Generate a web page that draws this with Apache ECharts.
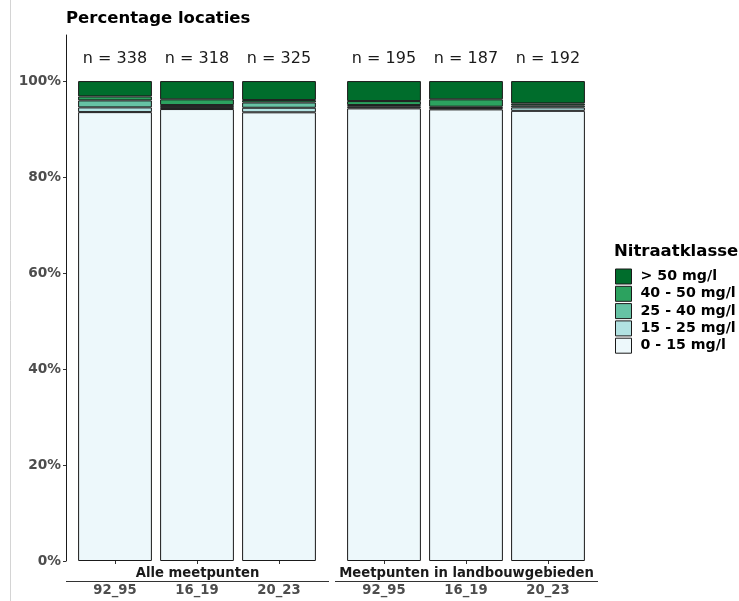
<!DOCTYPE html>
<html>
<head>
<meta charset="utf-8">
<script src="https://cdn.jsdelivr.net/npm/echarts@6/dist/echarts.min.js"></script>
<style>html,body{margin:0;padding:0;background:#fff}#c{width:739px;height:601px}</style>
</head>
<body>
<div id="c"></div>
<script>
const periods = ["92_95", "16_19", "20_23"];
const panels = ["Alle meetpunten", "Meetpunten in landbouwgebieden"];
const classes = ["0 - 15 mg/l", "15 - 25 mg/l", "25 - 40 mg/l", "40 - 50 mg/l", "> 50 mg/l"];
const colors = ["#edf8fb", "#b2e2e2", "#66c2a4", "#2ca25f", "#006d2c"];
const nAlle = [338, 318, 325];
const nLandbouw = [195, 187, 192];
// percentages per class (bottom to top), per period
const alle_0_15 = [93.53, 94.17, 93.49];
const alle_15_25 = [0.98, 0.41, 0.95];
const alle_25_40 = [1.46, 0.42, 1.10];
const alle_40_50 = [0.83, 1.19, 0.50];
const alle_gt50 = [3.20, 3.81, 3.96];
const land_0_15 = [94.31, 94.10, 93.80];
const land_15_25 = [0.34, 0.26, 0.71];
const land_25_40 = [0.35, 0.30, 0.42];
const land_40_50 = [0.83, 1.53, 0.42];
const land_gt50 = [4.17, 3.81, 4.65];
const yTicks = [0, 20, 40, 60, 80, 100];

const panelData = [
  [alle_0_15, alle_15_25, alle_25_40, alle_40_50, alle_gt50],
  [land_0_15, land_15_25, land_25_40, land_40_50, land_gt50]
];
const panelN = [nAlle, nLandbouw];

const font = "DejaVu Sans";
const series = [];
panelData.forEach((arrs, g) => {
  arrs.forEach((vals, k) => {
    const s = {
      name: classes[k], type: 'bar', stack: 'p' + g,
      xAxisIndex: g, yAxisIndex: g, barWidth: '90%',
      itemStyle: { color: colors[k], borderColor: '#1a1a1a', borderWidth: 1 },
      data: vals
    };
    if (k === arrs.length - 1) {
      s.label = {
        show: true, position: 'top', distance: 14,
        fontFamily: font, fontSize: 16, color: '#1a1a1a',
        formatter: p => 'n = ' + panelN[g][p.dataIndex]
      };
    }
    series.push(s);
  });
});

const xAxisCommon = (g) => ({
  type: 'category', gridIndex: g, data: periods, offset: 20,
  axisLine: { show: false },
  axisTick: { show: true, length: 3, alignWithLabel: true, lineStyle: { color: '#333' } },
  axisLabel: { margin: 3, fontFamily: font, fontWeight: 'bold', fontSize: 13.2, color: '#4d4d4d' }
});

const chart = echarts.init(document.getElementById('c'));
chart.setOption({
  animation: false,
  grid: [
    { left: 74, width: 246, top: 35, bottom: 40 },
    { left: 343, width: 246, top: 35, bottom: 40 }
  ],
  xAxis: [xAxisCommon(0), xAxisCommon(1)],
  yAxis: [
    { type: 'value', gridIndex: 0, min: 0, max: 109.6, offset: 8,
      splitLine: { show: false },
      axisLine: { show: true, lineStyle: { color: '#1a1a1a', width: 1 } },
      axisTick: { show: true, length: 3, customValues: yTicks, lineStyle: { color: '#333' } },
      axisLabel: { customValues: yTicks, margin: 5, formatter: '{value}%', fontFamily: font, fontWeight: 'bold', fontSize: 13.7, color: '#4d4d4d' } },
    { type: 'value', gridIndex: 1, min: 0, max: 109.6, show: false, splitLine: { show: false } }
  ],
  legend: {
    data: classes.slice().reverse(), orient: 'vertical', left: 610, top: 263.5,
    icon: 'rect', itemWidth: 16, itemHeight: 15, itemGap: 1.3, selectedMode: false,
    itemStyle: { borderWidth: 1, borderColor: '#1a1a1a' },
    textStyle: { fontFamily: font, fontWeight: 'bold', fontSize: 14.2, lineHeight: 15, color: '#000', padding: [0, 0, 0, 4] }
  },
  graphic: [
    { type: 'line', shape: { x1: 10.5, y1: 0, x2: 10.5, y2: 601 }, style: { stroke: '#d4d4d4', lineWidth: 1 } },
    { type: 'line', shape: { x1: 66, y1: 581.5, x2: 329, y2: 581.5 }, style: { stroke: '#333', lineWidth: 1 } },
    { type: 'line', shape: { x1: 335, y1: 581.5, x2: 598, y2: 581.5 }, style: { stroke: '#333', lineWidth: 1 } },
    { type: 'text', left: 66, top: 10, style: { text: 'Percentage locaties', font: 'bold 16.5px "DejaVu Sans"', fill: '#000' } },
    { type: 'text', left: 614, top: 243, style: { text: 'Nitraatklasse', font: 'bold 16.5px "DejaVu Sans"', fill: '#000' } },
    { type: 'text', x: 197.5, y: 573.5, style: { text: panels[0], font: 'bold 13.2px "DejaVu Sans"', fill: '#1a1a1a', align: 'center', verticalAlign: 'middle' } },
    { type: 'text', x: 466.5, y: 573.5, style: { text: panels[1], font: 'bold 13.2px "DejaVu Sans"', fill: '#1a1a1a', align: 'center', verticalAlign: 'middle' } }
  ],
  series: series
});
</script>
</body>
</html>
